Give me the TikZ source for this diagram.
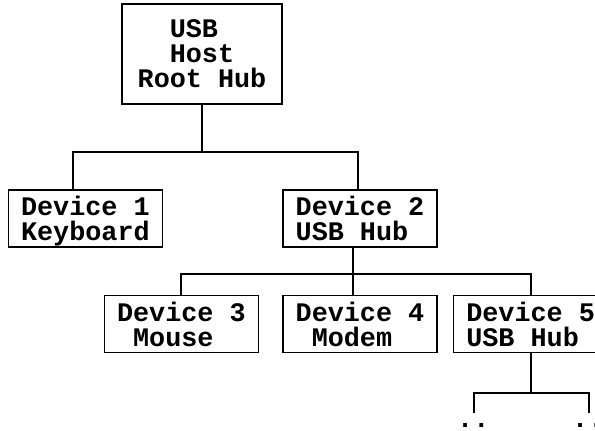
\documentclass[tikz,border=0pt]{standalone}
\usepackage{fontspec}
\setmonofont{Liberation Mono}
\usetikzlibrary{positioning}

\begin{document}
\begin{tikzpicture}[
  x=1pt,y=-1pt,
  node distance=47pt and 23pt,
  box/.style={draw,line width=1.6pt,align=left,inner sep=0pt,font=\ttfamily\bfseries\fontsize{26.8}{25}\selectfont,minimum width=154pt,minimum height=57pt},
  more/.style={inner sep=0pt,anchor=base west,font=\ttfamily\bfseries\fontsize{26.8}{25}\selectfont},
  wire/.style={line width=1.6pt}
]
\useasboundingbox (0,0) rectangle (595,431);
\clip (0,0) rectangle (595,431);
\node[box,minimum width=160pt,minimum height=100pt] (root) at (202,54) {\hphantom{xx}USB\\\hphantom{xx}Host\\Root Hub};
\node[box] (d2) at (360,218.5) {Device 2\\USB Hub};
\node[box,left=119pt of d2] (d1) {Device 1\\\smash{Keyboard}};
\node[box,below=47pt of d2] (d4) {Device 4\\\hphantom{x}Modem};
\node[box,left=23pt of d4] (d3) {Device 3\\\hphantom{x}Mouse};
\node[box,right=15pt of d4] (d5) {Device 5\\USB Hub};
\node[more] (more1) at (457,427) {..};
\node[more] (more2) at (572,427) {..};
% junctions
\coordinate (b1) at (202,152);
\coordinate (b1l) at (73,152);
\coordinate (b1r) at (358,152);
\coordinate (b2) at (353,274);
\coordinate (b2l) at (181,274);
\coordinate (b2r) at (531,274);
\coordinate (b3) at (531,393);
\coordinate (b3l) at (474,413);
\coordinate (b3r) at (589,393);
\coordinate (e3r) at (589,413);
\draw[wire] (root) -- (b1);
\draw[wire] (d1.north -| b1l) |- (b1r) -- (d2.north -| b1r);
\draw[wire] (d2.south -| b2) -- (d4.north -| b2);
\draw[wire] (d3.north -| b2l) |- (b2r) -- (d5.north -| b2r);
\draw[wire] (d5.south -| b3) -- (b3);
\draw[wire] (b3l) |- (b3r) -- (e3r);
\end{tikzpicture}
\end{document}
